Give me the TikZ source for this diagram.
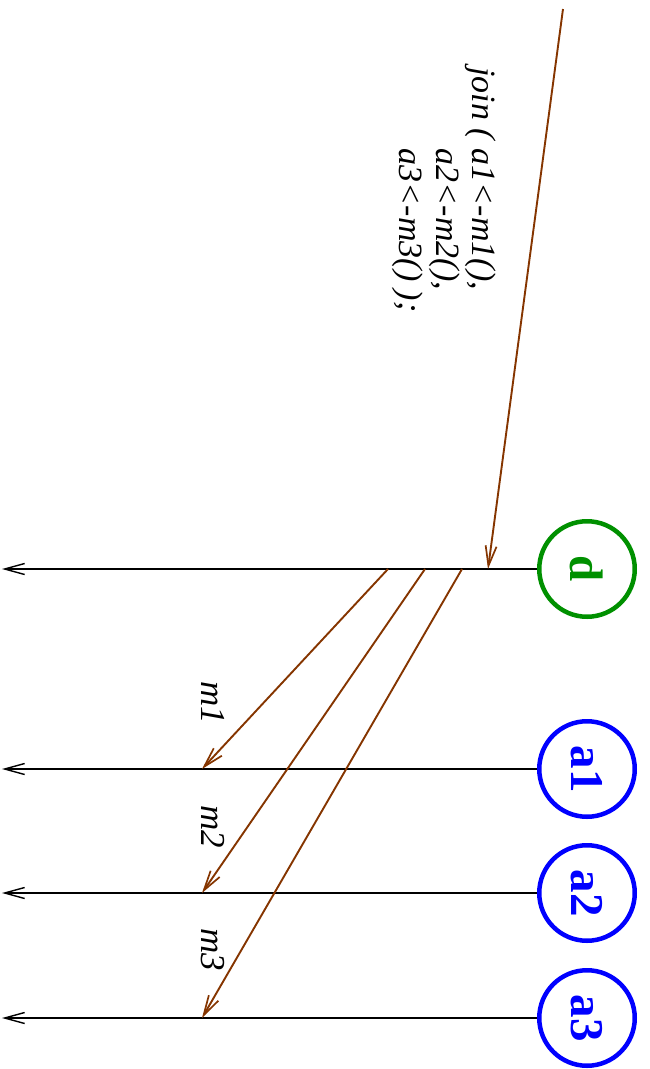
\documentclass[tikz,border=0pt]{standalone}
\usepackage{fontspec}
\setmainfont{Liberation Serif}
\usepackage{graphicx}
\usetikzlibrary{arrows.meta}
\definecolor{fgreen}{HTML}{009000}
\definecolor{fblue}{HTML}{0000FF}
\definecolor{fbrown}{HTML}{853500}
\tikzset{
  proc/.style={circle, draw=#1, line width=4.5pt, minimum size=95.5pt, inner sep=0pt, text=#1,
    font=\fontsize{47}{50}\selectfont\bfseries},
  life/.style={line width=1.4pt, black, -{Straight Barb[length=20pt,width=11pt,line width=1.4pt]}},
  msg/.style={line width=1.9pt, fbrown, -{Straight Barb[length=20pt,width=11pt,line width=1.7pt]}},
  lbl/.style={rotate=-90, inner sep=0pt, font=\fontsize{35}{36}\selectfont\itshape}
}
\begin{document}
\begin{tikzpicture}[x=1pt,y=-1pt]
\useasboundingbox (0,0) rectangle (650,1069);
\node[proc=fgreen] (d) at (587,569) {\rotatebox{-90}{d}};
\node[proc=fblue] (a1) at (587,769) {\rotatebox{-90}{a1}};
\node[proc=fblue] (a2) at (587,893) {\rotatebox{-90}{a2}};
\node[proc=fblue] (a3) at (587,1018) {\rotatebox{-90}{a3}};
\coordinate (dE) at (2,569);
\coordinate (a1E) at (2,769);
\coordinate (a2E) at (2,893);
\coordinate (a3E) at (2,1018);
\draw[life] (d) -- (dE);
\draw[life] (a1) -- (a1E);
\draw[life] (a2) -- (a2E);
\draw[life] (a3) -- (a3E);
\coordinate (call) at (563,9);
\coordinate (dIn) at (488,569);
\draw[msg] (call) -- (dIn);
\coordinate (s1) at (388,569);
\coordinate (s2) at (425,569);
\coordinate (s3) at (462,569);
\coordinate (t1) at (202,769);
\coordinate (t2) at (202,893);
\coordinate (t3) at (202,1018);
\draw[msg] (s1) -- (t1);
\draw[msg] (s2) -- (t2);
\draw[msg] (s3) -- (t3);
\node[lbl] (m1) at (213,703) {m1};
\node[lbl] (m2) at (213,827) {m2};
\node[lbl] (m3) at (213,950) {m3};
\node[lbl, anchor=north west, align=left, font=\fontsize{34}{36.5}\selectfont\itshape] (code) at (498.5,67)
  {\begin{tabular}{@{}l@{}l@{}}join (\kern 9pt&a1<-m1(),\\ &a2<-m2(),\\ &a3<-m3() );\end{tabular}};
\end{tikzpicture}
\end{document}
